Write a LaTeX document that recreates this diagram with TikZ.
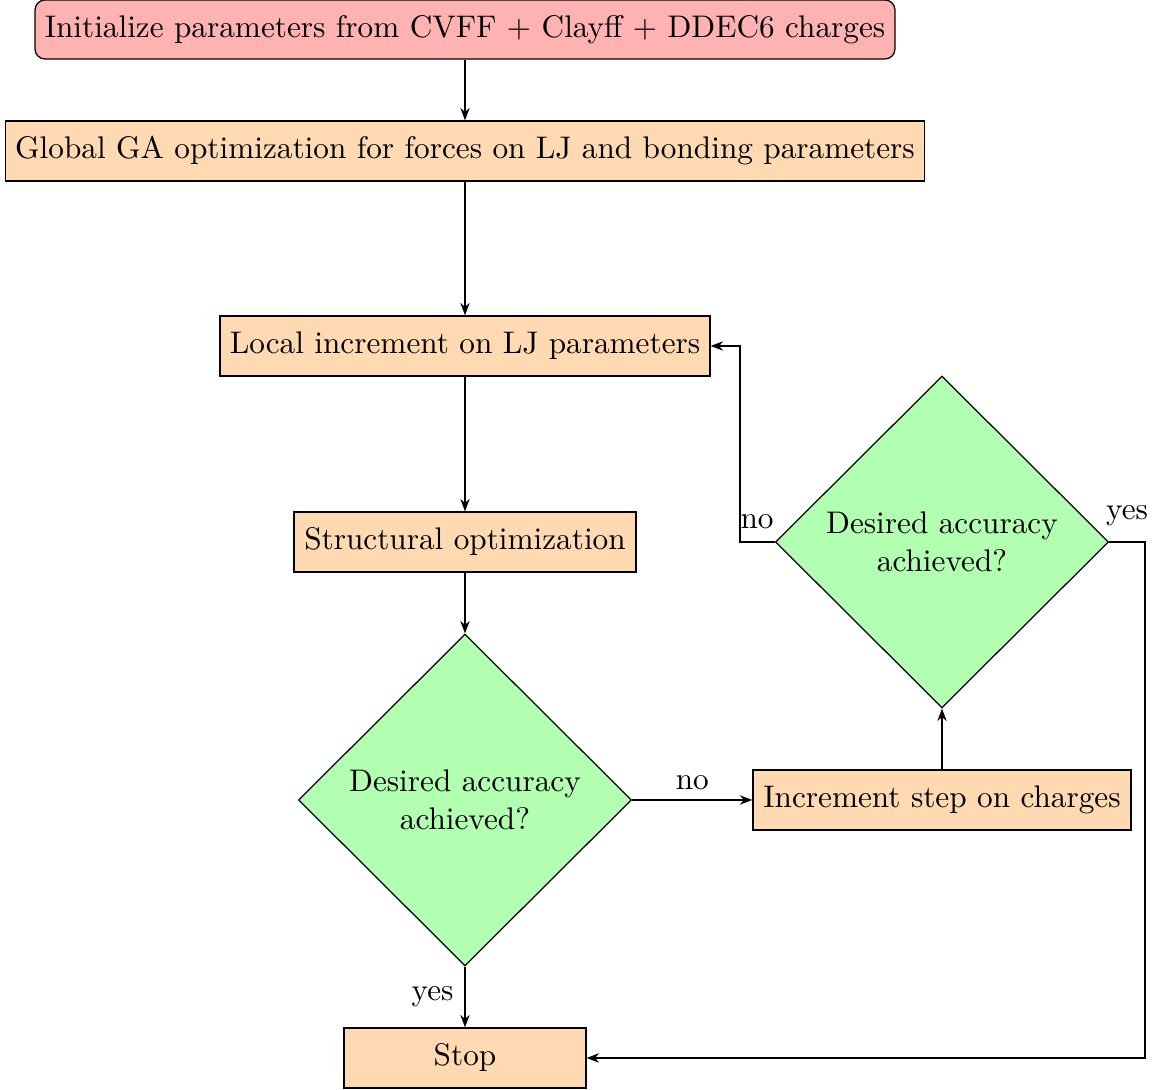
\documentclass[tikz,border=0pt]{standalone}
\usetikzlibrary{shapes.geometric,arrows.meta}
\begin{document}
\begin{tikzpicture}[x=0.32pt,y=-0.32pt,
  startbox/.style={draw,fill=red!30,rounded corners=3.2pt,inner sep=0pt,minimum height=18.88pt},
  procbox/.style={draw,fill=orange!30,inner sep=0pt,minimum height=19.2pt},
  decbox/.style={draw,fill=green!30,diamond,inner sep=0pt,minimum width=106.6pt,minimum height=106.2pt,align=center},
  conn/.style={draw,-{Stealth[length=4pt,width=3pt]}},
  lbl/.style={inner sep=0pt}]
\useasboundingbox (0,0) rectangle (1156,1090);
\node[startbox,minimum width=275.2pt] (init) at (465,29.5) {Initialize parameters from CVFF + Clayff + DDEC6 charges};
\node[procbox,minimum width=294.1pt] (ga) at (465,151) {Global GA optimization for forces on LJ and bonding parameters};
\node[procbox,minimum width=156.8pt] (local) at (465,346) {Local increment on LJ parameters};
\node[procbox,minimum width=109.4pt] (struct) at (465,542) {Structural optimization};
\node[decbox] (dec1) at (465,800) {Desired accuracy\\achieved?};
\node[procbox,minimum width=121pt] (inc) at (942,800) {Increment step on charges};
\node[decbox] (dec2) at (942,542) {Desired accuracy\\achieved?};
\node[procbox,minimum width=77.4pt] (stop) at (465,1058) {Stop};
\coordinate (nocorner) at (740,542);
\coordinate (yescorner) at (1145,542);
\draw[conn] (init) -- (ga);
\draw[conn] (ga) -- (local);
\draw[conn] (local) -- (struct);
\draw[conn] (struct) -- (dec1);
\draw[conn] (dec1) -- node[lbl,left=3.5pt] {yes} (stop);
\draw[conn] (dec1) -- node[lbl,above=3pt] {no} (inc);
\draw[conn] (inc) -- (dec2);
\draw[conn] (dec2.west) -- (nocorner) |- (local.east);
\draw[conn] (dec2.east) -- (yescorner) |- (stop.east);
\node[lbl] (nolbl) at (757,522) {no};
\node[lbl] (yeslbl) at (1127,516) {yes};
\end{tikzpicture}
\end{document}
